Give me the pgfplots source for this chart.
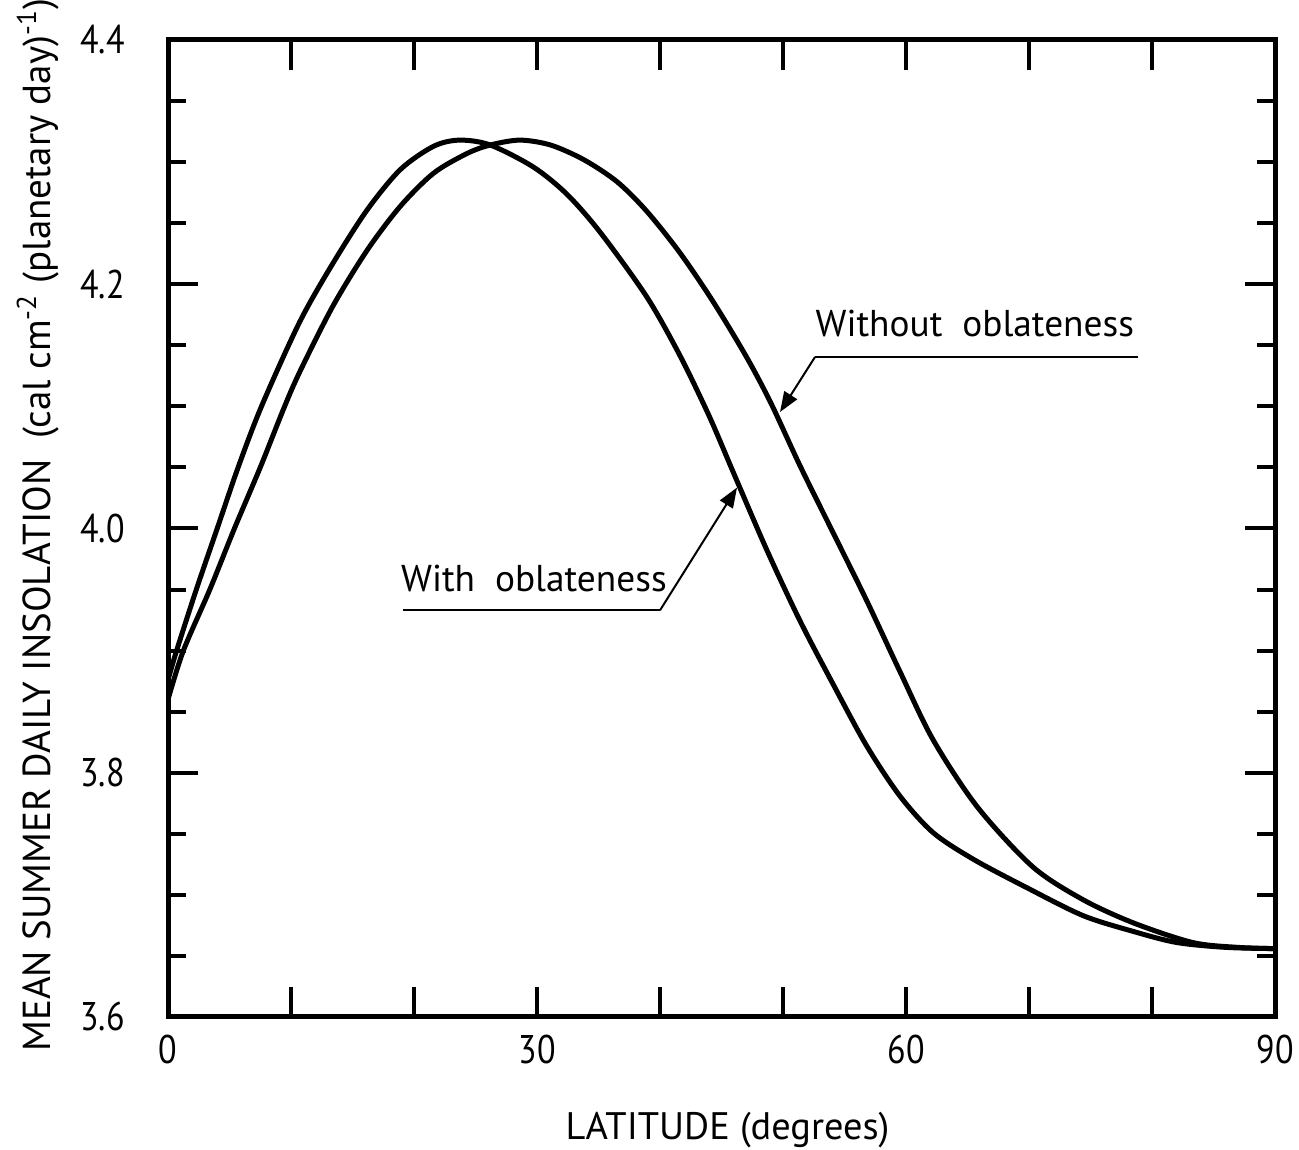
\documentclass[border=0pt]{standalone}
\usepackage{fontspec}
\setmainfont{PT Sans}
\newfontfamily\tickfont[FakeStretch=0.85]{PT Sans}
\usepackage{pgfplots}
\pgfplotsset{compat=1.18}
\usetikzlibrary{arrows.meta}
\pgfplotstableread{
lat val
0 3.876
0.7 3.900
2.3 3.950
4.0 4.000
5.7 4.050
7.6 4.100
10.7 4.169
13.4 4.217
16.2 4.261
18.9 4.294
21.6 4.313
23.7 4.318
26.2 4.314
29.7 4.296
32.4 4.274
35.1 4.243
38.9 4.190
41.6 4.142
44.0 4.092
46.0 4.045
48.7 3.982
51.4 3.924
54.1 3.872
56.8 3.822
59.5 3.781
62.2 3.751
65.5 3.729
69.8 3.706
74.4 3.683
78.5 3.670
82.0 3.661
86.0 3.657
90.0 3.656
}\withobl
\pgfplotstableread{
lat val
0 3.860
1.25 3.900
3.4 3.950
5.4 4.000
7.5 4.050
9.4 4.098
10.7 4.128
13.4 4.182
16.2 4.228
18.9 4.264
21.6 4.291
24.3 4.307
26.2 4.314
28.6 4.318
31.1 4.314
33.8 4.302
36.5 4.284
38.9 4.260
41.6 4.226
44.3 4.186
47.0 4.141
49.0 4.103
51.4 4.051
54.1 3.996
56.8 3.941
59.5 3.883
62.2 3.827
65.8 3.772
70.3 3.723
74.4 3.696
78.5 3.677
83.3 3.661
87.0 3.657
90.0 3.656
}\withoutobl
\begin{document}
\begin{tikzpicture}
\begin{axis}[
  scale only axis, width=332.1pt, height=293.1pt,
  xmin=0, xmax=90, ymin=3.6, ymax=4.4,
  xtick={0,10,...,90}, xticklabels={0,,,30,,,60,,,90},
  ytick={3.6,3.8,4.0,4.2,4.4}, yticklabels={3.6,3.8,4.0,4.2,4.4},
  minor ytick={3.65,3.7,3.75,3.85,3.9,3.95,4.05,4.1,4.15,4.25,4.3,4.35},
  tick align=inside, xtick pos=both, ytick pos=both,
  xticklabel pos=left, yticklabel pos=left,
  major tick length=9pt, minor tick length=5.4pt,
  every tick/.style={black, line width=1.2pt},
  axis line style={line width=1.5pt},
  ticklabel style={font=\tickfont\fontsize{12}{12}\selectfont},
  /pgf/number format/assume math mode=true,
  xticklabel style={yshift=-2pt},
  yticklabel style={xshift=-9.5pt},
  xlabel={LATITUDE (degrees)},
  ylabel={MEAN SUMMER DAILY INSOLATION\ \ (cal cm\textsuperscript{-2} (planetary day)\textsuperscript{-1})},
  every axis x label/.style={at={(axis description cs:0.5054,-0.1249)}, anchor=base, font=\fontsize{11.5}{11.5}\selectfont},
  every axis y label/.style={at={(axis description cs:-0.1174,0.5036)}, rotate=90, anchor=center, font=\fontsize{11.7}{11.7}\selectfont},
]
\addplot[black, line width=1.5pt, smooth, tension=0.5] table[x=lat,y=val] {\withobl};
\addplot[black, line width=1.5pt, smooth, tension=0.5] table[x=lat,y=val] {\withoutobl};
% annotations
\draw[line width=0.6pt] (axis cs:78.9,4.1404) -- (axis cs:52.6,4.1404);
\draw[line width=0.6pt, -{Triangle[length=6pt,width=4.5pt]}] (axis cs:52.6,4.1404) -- (axis cs:49.76,4.0954);
\node[anchor=base west, inner sep=0pt, font=\fontsize{11.2}{11.2}\selectfont] at (axis cs:52.6,4.157) {Without\ \ oblateness};
\draw[line width=0.6pt] (axis cs:19.1,3.933) -- (axis cs:40.0,3.933);
\draw[line width=0.6pt, -{Triangle[length=6pt,width=4.5pt]}] (axis cs:40.0,3.933) -- (axis cs:46.26,4.0335);
\node[anchor=base west, inner sep=0pt, font=\fontsize{11.2}{11.2}\selectfont] at (axis cs:18.9,3.948) {With\ \ oblateness};
\coordinate (sw) at (rel axis cs:0,0);
\coordinate (ne) at (rel axis cs:1,1);
\end{axis}
\pgfresetboundingbox
\path[use as bounding box] ([xshift=-50.4pt,yshift=-39.6pt]sw) rectangle ([xshift=7.2pt,yshift=12pt]ne);
\end{tikzpicture}
\end{document}
